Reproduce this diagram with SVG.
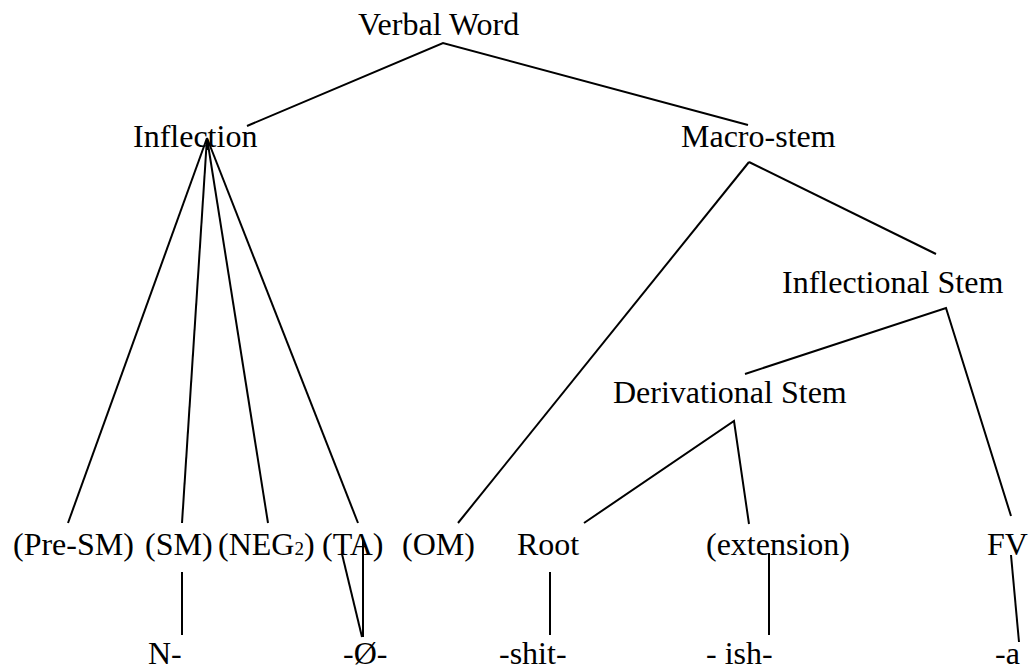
<svg xmlns="http://www.w3.org/2000/svg" width="1033" height="672" viewBox="0 0 1033 672">
  <style>
    .lbl { font-family: "Liberation Serif", "Times New Roman", serif; font-size: 32px; fill: #000; }
    .sub { font-size: 19px; }
    .edge { stroke: #000; stroke-width: 2; fill: none; stroke-linecap: butt; }
  </style>
  <rect width="1033" height="672" fill="#fff"/>

  <!-- tree branches -->
  <g id="connectors">
    <polyline class="edge" points="247,126 443,43 748,125"/>
    <line class="edge" x1="207" y1="138" x2="207" y2="150"/>
    <line class="edge" x1="207" y1="138" x2="68" y2="523"/>
    <line class="edge" x1="207" y1="138" x2="182" y2="523"/>
    <line class="edge" x1="207" y1="138" x2="268" y2="523"/>
    <line class="edge" x1="207" y1="138" x2="358" y2="523"/>
    <line class="edge" x1="749" y1="162" x2="458" y2="523"/>
    <line class="edge" x1="749" y1="162" x2="936" y2="254"/>
    <polyline class="edge" points="745,374 946,308 1011,516"/>
    <polyline class="edge" points="584,523 734,421 749,524"/>
    <line class="edge" x1="182" y1="572" x2="182" y2="635"/>
    <line class="edge" x1="342" y1="554" x2="362" y2="637"/>
    <line class="edge" x1="363" y1="538" x2="363" y2="637"/>
    <line class="edge" x1="550" y1="572" x2="550" y2="635"/>
    <line class="edge" x1="769" y1="553" x2="769" y2="635"/>
    <line class="edge" x1="1011" y1="555" x2="1019" y2="642"/>
  </g>

  <g id="verbal-word"><text class="lbl" x="358" y="35">Verbal Word</text></g>
  <g id="inflection"><text class="lbl" x="133" y="147">Inflection</text></g>
  <g id="macro-stem"><text class="lbl" x="681" y="147">Macro-stem</text></g>
  <g id="inflectional-stem"><text class="lbl" x="782" y="293">Inflectional Stem</text></g>
  <g id="derivational-stem"><text class="lbl" x="613" y="403">Derivational Stem</text></g>

  <g id="pre-sm"><text class="lbl" x="13" y="555">(Pre-SM)</text></g>
  <g id="sm"><text class="lbl" x="145" y="555">(SM)</text></g>
  <g id="neg2"><text class="lbl" x="218" y="555">(NEG<tspan class="sub">2</tspan>)</text></g>
  <g id="ta"><text class="lbl" x="322" y="555">(TA)</text></g>
  <g id="om"><text class="lbl" x="402" y="555">(OM)</text></g>
  <g id="root"><text class="lbl" x="517" y="555">Root</text></g>
  <g id="extension"><text class="lbl" x="706" y="555">(extension)</text></g>
  <g id="fv"><text class="lbl" x="987" y="555">FV</text></g>

  <g id="n-morph"><text class="lbl" x="148" y="664">N-</text></g>
  <g id="zero-morph"><text class="lbl" x="343" y="664">-Ø-</text></g>
  <g id="shit-morph"><text class="lbl" x="499" y="664">-shit-</text></g>
  <g id="ish-morph"><text class="lbl" x="706" y="664">- ish-</text></g>
  <g id="a-morph"><text class="lbl" x="995" y="664">-a</text></g>
</svg>
